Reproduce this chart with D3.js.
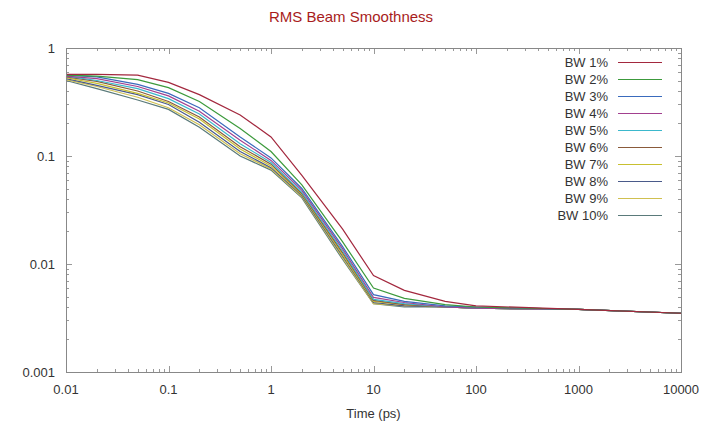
<!DOCTYPE html>
<html><head><meta charset="utf-8">
<script src="https://cdn.jsdelivr.net/npm/d3@7"></script>
<style>body{margin:0;background:#fff}</style>
</head><body><svg id="c" width="703" height="426"></svg>
<script>
const times = [0.01,0.02,0.05,0.1,0.2,0.5,1,2,5,10,20,50,100,1000,10000];
const seriesNames = ["BW 1%","BW 2%","BW 3%","BW 4%","BW 5%","BW 6%","BW 7%","BW 8%","BW 9%","BW 10%"];
const bw1  = [0.57,0.57,0.56,0.48,0.37,0.24,0.15,0.066,0.021,0.0078,0.0057,0.0045,0.0041,0.0038,0.0035];
const bw2  = [0.56,0.55,0.51,0.43,0.32,0.18,0.11,0.054,0.016,0.0060,0.0048,0.0042,0.0040,0.0038,0.0035];
const bw3  = [0.56,0.54,0.46,0.38,0.28,0.15,0.096,0.050,0.0145,0.0052,0.0045,0.0041,0.0040,0.0038,0.0035];
const bw4  = [0.55,0.52,0.44,0.36,0.26,0.14,0.091,0.048,0.0138,0.0049,0.0044,0.0040,0.0039,0.0038,0.0035];
const bw5  = [0.55,0.50,0.42,0.34,0.245,0.13,0.087,0.046,0.0132,0.0047,0.0043,0.0040,0.0039,0.0038,0.0035];
const bw6  = [0.54,0.49,0.40,0.32,0.23,0.122,0.084,0.045,0.0127,0.0046,0.0042,0.0040,0.0039,0.0038,0.0035];
const bw7  = [0.53,0.47,0.38,0.31,0.22,0.116,0.081,0.044,0.0122,0.0045,0.0042,0.0040,0.0039,0.0038,0.0035];
const bw8  = [0.52,0.45,0.37,0.30,0.205,0.110,0.078,0.043,0.0118,0.0044,0.0041,0.0040,0.0039,0.0038,0.0035];
const bw9  = [0.51,0.44,0.35,0.28,0.195,0.105,0.076,0.042,0.0114,0.0043,0.0041,0.0040,0.0039,0.0038,0.0035];
const bw10 = [0.50,0.42,0.33,0.27,0.185,0.100,0.074,0.041,0.0110,0.0043,0.0040,0.0040,0.0039,0.0038,0.0035];
const xTicks = [0.01,0.1,1,10,100,1000,10000];
const xTickLabels = ["0.01","0.1","1","10","100","1000","10000"];
const yTicks = [0.001,0.01,0.1,1];
const yTickLabels = ["0.001","0.01","0.1","1"];

const allSeries = [bw1,bw2,bw3,bw4,bw5,bw6,bw7,bw8,bw9,bw10];
const colors = ["#a3283e","#3c9a3c","#3a6bbd","#a2408f","#3bb8cc","#8a5a3a","#c8c030","#4a5a8a","#d0c050","#5a7a7a"];

const svg = d3.select("#c");
const M = {l:66, r:681, t:48, b:372};
const x = d3.scaleLog().domain([0.01,10000]).range([M.l,M.r]);
const y = d3.scaleLog().domain([0.001,1]).range([M.b,M.t]);
const font = "Liberation Sans, Arial, sans-serif";

svg.append("text").attr("x",351).attr("y",22).attr("text-anchor","middle")
  .attr("font-family",font).attr("font-size",15).attr("fill","#a81c1c").text("RMS Beam Smoothness");

const minorX = [], minorY = [];
for (let e=-2;e<4;e++) for (let k=2;k<10;k++) minorX.push(k*Math.pow(10,e));
for (let e=-3;e<0;e++) for (let k=2;k<10;k++) minorY.push(k*Math.pow(10,e));

const g = svg.append("g").attr("stroke","#999").attr("stroke-width",1);
xTicks.forEach(v=>{const px=Math.round(x(v))+0.5;
  g.append("line").attr("x1",px).attr("x2",px).attr("y1",M.b).attr("y2",M.b-6);
  g.append("line").attr("x1",px).attr("x2",px).attr("y1",M.t).attr("y2",M.t+6);});
minorX.forEach(v=>{const px=Math.round(x(v))+0.5;
  g.append("line").attr("x1",px).attr("x2",px).attr("y1",M.b).attr("y2",M.b-3);
  g.append("line").attr("x1",px).attr("x2",px).attr("y1",M.t).attr("y2",M.t+3);});
yTicks.forEach(v=>{const py=Math.round(y(v))+0.5;
  g.append("line").attr("x1",M.l).attr("x2",M.l+6).attr("y1",py).attr("y2",py);
  g.append("line").attr("x1",M.r).attr("x2",M.r-6).attr("y1",py).attr("y2",py);});
minorY.forEach(v=>{const py=Math.round(y(v))+0.5;
  g.append("line").attr("x1",M.l).attr("x2",M.l+3).attr("y1",py).attr("y2",py);
  g.append("line").attr("x1",M.r).attr("x2",M.r-3).attr("y1",py).attr("y2",py);});

xTicks.forEach((v,i)=>svg.append("text").attr("x",x(v)).attr("y",M.b+22).attr("text-anchor","middle")
  .attr("font-family",font).attr("font-size",13).attr("fill","#333").text(xTickLabels[i]));
yTicks.forEach((v,i)=>svg.append("text").attr("x",M.l-11).attr("y",y(v)+4.5).attr("text-anchor","end")
  .attr("font-family",font).attr("font-size",13).attr("fill","#333").text(yTickLabels[i]));
svg.append("text").attr("x",(M.l+M.r)/2).attr("y",418).attr("text-anchor","middle")
  .attr("font-family",font).attr("font-size",13).attr("fill","#333").text("Time (ps)");

const line = d3.line().x((d,i)=>x(times[i])).y(d=>y(d));
for (let s=allSeries.length-1;s>=0;s--) {
  svg.append("path").attr("d",line(allSeries[s])).attr("fill","none")
    .attr("stroke",colors[s]).attr("stroke-width",1.2);
}

seriesNames.forEach((n,i)=>{
  const ly = 62 + i*17;
  svg.append("text").attr("x",608).attr("y",ly+4.5).attr("text-anchor","end")
    .attr("font-family",font).attr("font-size",13).attr("fill","#333").text(n);
  svg.append("line").attr("x1",618).attr("x2",662).attr("y1",ly+0.5).attr("y2",ly+0.5)
    .attr("stroke",colors[i]).attr("stroke-width",1.2);
});

svg.append("rect").attr("x",M.l+0.5).attr("y",M.t+0.5).attr("width",M.r-M.l).attr("height",M.b-M.t)
  .attr("fill","none").attr("stroke","#888").attr("stroke-width",1);
</script></body></html>
